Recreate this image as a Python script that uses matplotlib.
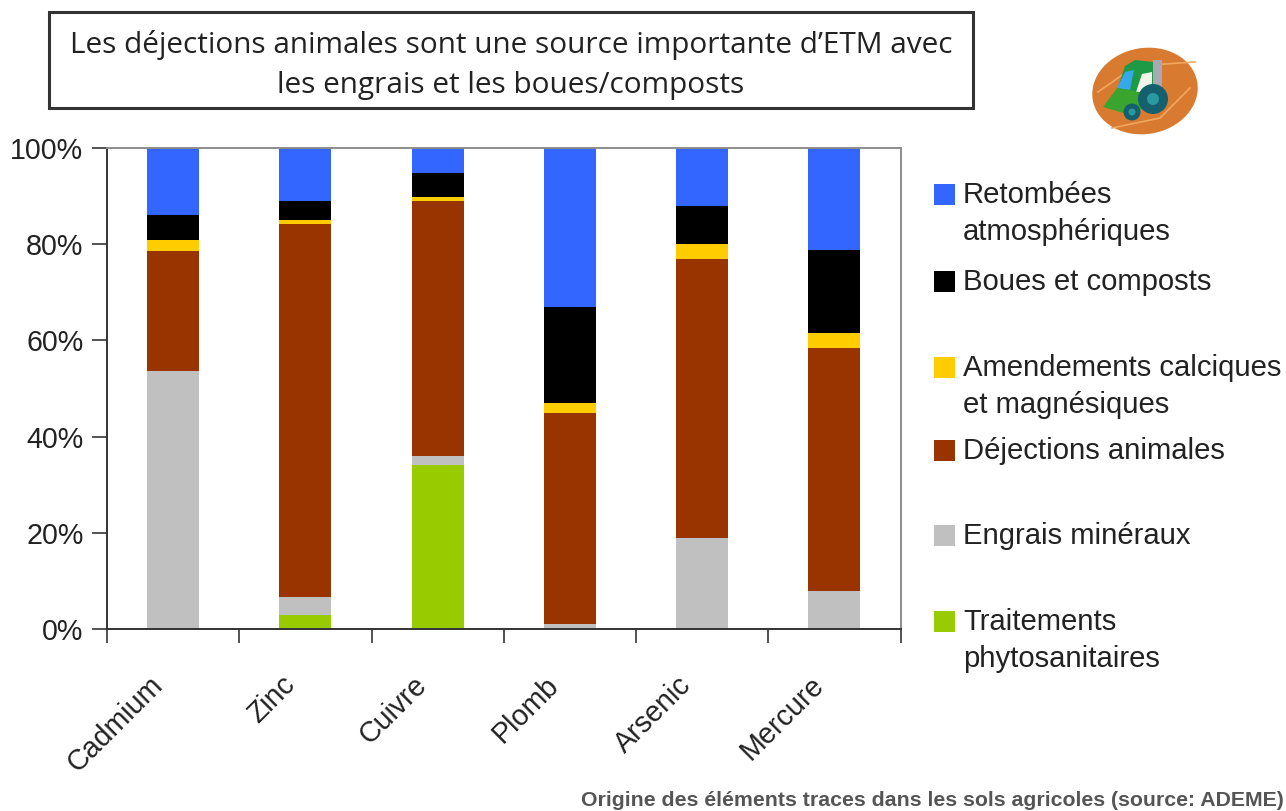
import matplotlib
matplotlib.use("Agg")
import matplotlib.pyplot as plt
from matplotlib.patches import Ellipse, Polygon, Rectangle, Circle

W, H = 1286, 811

metals = ["Cadmium", "Zinc", "Cuivre", "Plomb", "Arsenic", "Mercure"]

# stacked from the bottom, all in %
traitements = [0, 3, 34, 0, 0, 0]
engrais = [53.6, 3.7, 2, 1, 19, 8]
dejections = [25, 77.5, 53, 44, 58, 50.4]
amendements = [2.3, 0.8, 0.8, 2, 3, 3.1]
boues = [5.1, 4, 5, 20, 8, 17.3]
retombees = [14, 11, 5.2, 33, 12, 21.2]

series = [traitements, engrais, dejections, amendements, boues, retombees]
colors = ["#99cc00", "#c0c0c0", "#993300", "#ffcc00", "#000000", "#3366ff"]

yticks = [0, 20, 40, 60, 80, 100]
ytick_labels = ["0%", "20%", "40%", "60%", "80%", "100%"]

legend_labels = ["Retombées\natmosphériques", "Boues et composts",
                 "Amendements calciques\net magnésiques", "Déjections animales",
                 "Engrais minéraux", "Traitements\nphytosanitaires"]
legend_colors = ["#3366ff", "#000000", "#ffcc00", "#993300", "#c0c0c0", "#99cc00"]
legend_tops = [184, 271, 357, 440, 525, 611]

fig = plt.figure(figsize=(W / 100, H / 100), dpi=100)
plt.rcParams["font.family"] = "Liberation Sans"

# main chart
ax = fig.add_axes([107 / W, 1 - 629 / H, (900.5 - 107) / W, (629 - 148) / H])
bottom = [0] * len(metals)
for vals, col in zip(series, colors):
    ax.bar(range(len(metals)), vals, bottom=bottom, width=0.395, color=col, linewidth=0)
    bottom = [b + v for b, v in zip(bottom, vals)]

ax.set_xlim(-0.5, 5.5)
ax.set_ylim(0, 100)
ax.set_yticks(yticks)
ax.set_yticklabels(ytick_labels, fontsize=20.6, color="#222222")
ax.set_xticks([i - 0.5 for i in range(7)])
ax.set_xticklabels([])
ax.tick_params(axis="y", length=11, width=1.3, color="#444444", pad=6)
ax.tick_params(axis="x", length=10, width=1.3, color="#444444")
for s in ["top", "right"]:
    ax.spines[s].set_color("#8c8c8c")
    ax.spines[s].set_linewidth(1.4)
for s in ["left", "bottom"]:
    ax.spines[s].set_color("#333333")
    ax.spines[s].set_linewidth(1.4)

# rotated category names end just under the middle of each slot
for i, m in enumerate(metals):
    ax.annotate(m, (i, 0), xytext=(-18, -30), textcoords="offset points",
                rotation=45, ha="right", va="top", rotation_mode="anchor",
                fontsize=20.6, color="#222222")

# overlay in pixel coordinates for title box, legend, logo
ov = fig.add_axes([0, 0, 1, 1])
ov.set_xlim(0, W)
ov.set_ylim(H, 0)
ov.axis("off")
ov.patch.set_alpha(0)

ov.add_patch(Rectangle((49, 12), 924, 96, facecolor="white", edgecolor="#333333", linewidth=2.2))
ov.text(511, 65, "Les déjections animales sont une source importante d’ETM avec\nles engrais et les boues/composts",
        ha="center", va="center", fontsize=21.4, family="Open Sans", color="#222222", linespacing=1.46)

for lab, col, top in zip(legend_labels, legend_colors, legend_tops):
    ov.add_patch(Rectangle((934, top), 21, 21, facecolor=col, linewidth=0))
    ov.text(963, top - 3, lab, ha="left", va="top", fontsize=21.1, color="#222222", linespacing=1.41)

ov.text(1284, 800, "Origine des éléments traces dans les sols agricoles (source: ADEME)",
        ha="right", va="center", fontsize=15.3, color="#555555", fontweight="bold")

# tractor logo
ov.add_patch(Ellipse((1145, 91), 106, 86, angle=-10, facecolor="#d87a30", linewidth=0))
ov.plot([1098, 1135, 1195], [92, 66, 62], color="#eea860", lw=1.2, zorder=1)
ov.plot([1112, 1160, 1190], [128, 118, 88], color="#eea860", lw=1.2, zorder=1)
ov.add_patch(Rectangle((1153, 60), 9, 38, facecolor="#a9a9b5", linewidth=0, zorder=2))
ov.add_patch(Polygon([[1117, 90], [1125, 66], [1135, 60], [1153, 62], [1153, 92], [1140, 96]], facecolor="#1e9a46", linewidth=0, zorder=2))
ov.add_patch(Polygon([[1117, 88], [1125, 72], [1134, 70], [1130, 90]], facecolor="#35a8e8", linewidth=0, zorder=3))
ov.add_patch(Polygon([[1136, 92], [1142, 74], [1152, 72], [1152, 92]], facecolor="#f2f6e8", linewidth=0, zorder=3))
ov.add_patch(Polygon([[1103, 107], [1117, 88], [1150, 94], [1145, 108], [1127, 114]], facecolor="#3aa52e", linewidth=0, zorder=3))
ov.add_patch(Circle((1153, 99), 15, facecolor="#14606e", linewidth=0, zorder=4))
ov.add_patch(Circle((1153, 99), 6, facecolor="#2a9aa0", linewidth=0, zorder=5))
ov.add_patch(Circle((1132, 112), 8.5, facecolor="#14606e", linewidth=0, zorder=4))
ov.add_patch(Circle((1132, 112), 3.5, facecolor="#2a9aa0", linewidth=0, zorder=5))

fig.savefig("out.png", dpi=100)
